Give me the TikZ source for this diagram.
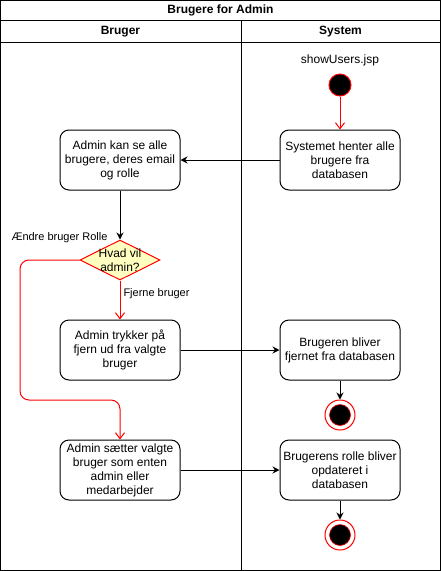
\documentclass[tikz,border=0pt]{standalone}
\usepackage{fontspec}
\setmainfont{Liberation Sans}
\usetikzlibrary{arrows.meta, positioning, shapes.geometric, calc}
\definecolor{cred}{HTML}{FF0000}
\definecolor{cyellow}{HTML}{FFFFC0}
\tikzset{
  every picture/.style={font=\fontsize{12}{14}\selectfont, line width=1pt},
  act/.style={draw, rounded corners=9pt, align=center, minimum width=120pt, minimum height=60pt, inner sep=2pt},
  choice/.style={diamond, draw=cred, fill=cyellow, minimum width=80pt, minimum height=40pt, inner sep=0pt},
  startdot/.style={circle, draw=cred, fill=black, minimum size=22pt, inner sep=0pt},
  enddot/.style={circle, draw=cred, fill=white, minimum size=30pt, inner sep=0pt,
    path picture={\filldraw[black, draw=cred, line width=0.6pt] (path picture bounding box.center) circle (10.5pt);}},
  head/.style={font=\fontsize{12}{14}\selectfont\bfseries},
  arrow/.style={-{Stealth[length=7pt, width=7pt]}},
  redarrow/.style={draw=cred, -{Straight Barb[length=6pt, width=9pt]}},
  elabel/.style={font=\fontsize{11}{13}\selectfont, inner sep=0pt},
}
\begin{document}
\begin{tikzpicture}[x=1pt, y=-1pt]
  \useasboundingbox (0,0) rectangle (441,571);
  % ---------- swimlanes
  \draw (0.5,0.5) rectangle (440.5,570.5);
  \draw (0.5,20.5) -- (440.5,20.5);
  \draw (0.5,42.5) -- (440.5,42.5);
  \draw (241,20.5) -- (241,570.5);
  \node[head] (title) at (220.5,10.5) {Brugere for Admin};
  \node[head] (lbruger) at (120.5,31.5) {Bruger};
  \node[head] (lsystem) at (340.5,31.5) {System};
  % ---------- system lane
  \node (jsp) at (340,60) {showUsers.jsp};
  \node[startdot] (start) at (340,85) {};
  \node[act] (hent) at (340,160) {Systemet henter alle\\brugere fra\\databasen};
  \node[act] (fjernet) at (340,350) {Brugeren bliver\\fjernet fra databasen};
  \node[enddot] (end1) at (340,415) {};
  \node[act] (opdat) at (340,470) {Brugerens rolle bliver\\opdateret i\\databasen};
  \node[enddot] (end2) at (340,535) {};
  % ---------- bruger lane
  \node[act] (se) at (120,160) {Admin kan se alle\\brugere, deres email\\og rolle};
  \node[choice] (q) at (120,260) {};
  \node[align=center] (qtxt) at (120,260) {Hvad vil\\admin?};
  \node[act] (trykker) at (120,350) {Admin trykker på\\fjern ud fra valgte\\bruger};
  \node[act] (saet) at (120,470) {Admin sætter valgte\\bruger som enten\\admin eller\\medarbejder};
  % ---------- flows
  \draw[redarrow] (start) -- (hent);
  \draw[arrow] (hent) -- (se);
  \draw[arrow] (se) -- (q);
  \draw[redarrow] (q.south) -- node[elabel, pos=0, anchor=north west, xshift=3pt, yshift=-8pt] {Fjerne bruger} (trykker);
  \draw[redarrow, rounded corners=9pt] (q.west) -- node[elabel, pos=0, anchor=south, xshift=-20pt, yshift=17pt] {Ændre bruger Rolle} (20,260) -- (20,400) -| (saet.north);
  \draw[arrow] (trykker) -- (fjernet);
  \draw[arrow] (fjernet) -- (end1);
  \draw[arrow] (saet) -- (opdat);
  \draw[arrow] (opdat) -- (end2);
\end{tikzpicture}
\end{document}
